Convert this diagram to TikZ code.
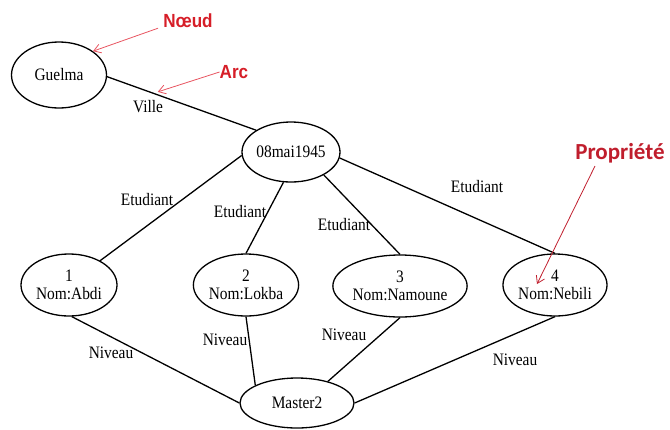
\documentclass[tikz,border=0pt]{standalone}
\usepackage{fontspec}
\setmainfont[FakeStretch=0.88]{Liberation Serif}
\newfontfamily\annofont[FakeStretch=0.9]{Liberation Sans}
\newfontfamily\propfont{Carlito}
\usetikzlibrary{shapes.geometric,arrows.meta}

\definecolor{noteRed}{RGB}{214,30,40}
\definecolor{noteLine}{RGB}{232,84,96}
\definecolor{propRed}{RGB}{192,30,45}

\begin{document}
\begin{tikzpicture}[x=1pt,y=-1pt,
  ent/.style={ellipse, draw, line width=1.3pt, inner sep=0pt,
    minimum width=96pt, minimum height=62pt, align=center,
    font=\fontsize{17.5}{18.5}\selectfont},
  rel/.style={line width=1.3pt},
  lab/.style={inner sep=0pt, font=\fontsize{17.5}{18}\selectfont},
  note/.style={inner sep=0pt, text=noteRed, font=\annofont\bfseries\fontsize{19}{22}\selectfont},
  pointer/.style={draw=#1, line width=0.8pt, -{Straight Barb[length=7pt,width=9pt]}},
  pointer/.default=noteLine]

\useasboundingbox (0,0) rectangle (670,429);

% entities
\node[ent, minimum width=95pt, minimum height=66pt] (guelma) at (59,75) {Guelma};
\node[ent, minimum width=95pt, minimum height=60pt] (mai) at (291,152) {08mai1945};
\node[ent] (e1) at (69,285) {1\\Nom:Abdi};
\node[ent] (e2) at (246,285) {2\\Nom:Lokba};
\node[ent] (e3) at (400,286) {3\\Nom:Namoune};
\node[ent] (e4) at (555,285) {4\\Nom:Nebili};
\node[ent, minimum width=114pt, minimum height=50pt] (master) at (297,403) {Master2};

% relations
\draw[rel] (guelma.-2) -- (mai.148) coordinate[pos=0.34] (arcTip);
\draw[rel] (mai.184) -- (e1.38);
\draw[rel] (mai.256) -- (e2.90);
\draw[rel] (mai.-35) -- (e3.90);
\draw[rel] (mai.-7) -- (e4.90);
\draw[rel] (e1.-85) -- (master.180);
\draw[rel] (e2.270) -- (master.157);
\draw[rel] (e3.270) -- (master.35);
\draw[rel] (e4.270) -- (master.0);

% relation labels
\node[lab] (lville) at (148,107) {Ville};
\node[lab] (let1) at (147,200) {Etudiant};
\node[lab] (let2) at (240,212) {Etudiant};
\node[lab] (let3) at (344,225) {Etudiant};
\node[lab] (let4) at (477,187) {Etudiant};
\node[lab] (lniv1) at (111,353) {Niveau};
\node[lab] (lniv2) at (225,340) {Niveau};
\node[lab] (lniv3) at (344,335) {Niveau};
\node[lab] (lniv4) at (515,360) {Niveau};

% annotations
\node[note] (noeud) at (188,21) {Nœud};
\draw[pointer] ([xshift=-5pt]noeud.south west) -- (guelma.35);

\node[note] (arc) at (234,72) {Arc};
\draw[pointer] (arc.west) -- ([yshift=3pt]arcTip);

\node[inner sep=0pt, text=propRed, font=\propfont\bfseries\fontsize{23}{26}\selectfont] (prop) at (620,153) {Propriété};
\coordinate (propStart) at (595,166);
\coordinate (propTip) at (537,284);
\draw[pointer=propRed] (propStart) -- (propTip);
\end{tikzpicture}
\end{document}
